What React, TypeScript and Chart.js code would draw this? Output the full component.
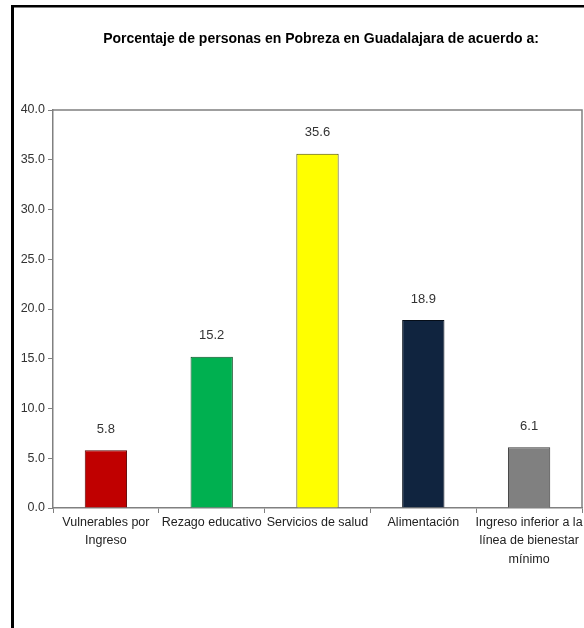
import React, { useEffect, useRef } from "react";
import { Chart, registerables } from "chart.js";

Chart.register(...registerables);

const titleText = "Porcentaje de personas en Pobreza en Guadalajara de acuerdo a:";
const categories: string[][] = [
  ["Vulnerables por", "Ingreso"],
  ["Rezago educativo"],
  ["Servicios de salud"],
  ["Alimentación"],
  ["Ingreso inferior a la", "línea de bienestar", "mínimo"],
];
const values = [5.8, 15.2, 35.6, 18.9, 6.1];
const barColors = ["#C00000", "#00B050", "#FFFF00", "#10243F", "#808080"];
const barBorders = ["#5a0000", "#0b4d24", "#4d4d00", "#050d18", "#3a3a3a"];
const yMin = 0;
const yMax = 40;
const yStep = 5;

const FONT = "'Liberation Sans Narrow', 'Liberation Sans', Arial, sans-serif";

const framePlugin = {
  id: "framePlugin",
  afterDraw(chart: any) {
    const { ctx, chartArea } = chart;
    ctx.save();
    // plot area top and right border
    ctx.strokeStyle = "#808080";
    ctx.lineWidth = 1.5;
    ctx.beginPath();
    ctx.moveTo(chartArea.left, chartArea.top);
    ctx.lineTo(chartArea.right, chartArea.top);
    ctx.lineTo(chartArea.right, chartArea.bottom);
    ctx.stroke();
    // outer black frame (left and top)
    ctx.fillStyle = "#000";
    ctx.fillRect(11, 5, 3, chart.height - 5);
    ctx.fillRect(11, 5, chart.width - 11, 2.5);
    // title
    ctx.fillStyle = "#000";
    ctx.font = `bold 14px ${FONT}`;
    ctx.textAlign = "center";
    ctx.textBaseline = "middle";
    ctx.fillText(titleText, 321, 39);
    // value labels
    const meta = chart.getDatasetMeta(0);
    ctx.font = `13px ${FONT}`;
    ctx.fillStyle = "#333";
    meta.data.forEach((bar: any, i: number) => {
      ctx.fillText(values[i].toFixed(1), bar.x, bar.y - 21);
    });
    ctx.restore();
  },
};

export default function App() {
  const ref = useRef<HTMLCanvasElement>(null);
  useEffect(() => {
    if (!ref.current) return;
    const chart = new Chart(ref.current, {
      type: "bar",
      data: {
        labels: categories,
        datasets: [
          {
            data: values,
            backgroundColor: barColors,
            borderColor: barBorders,
            borderWidth: 1,
            barPercentage: 0.4,
            categoryPercentage: 1,
          },
        ],
      },
      options: {
        animation: false,
        responsive: false,
        devicePixelRatio: 1,
        layout: { padding: { top: 110, right: 2, left: 0, bottom: 0 } },
        plugins: {
          legend: { display: false },
          title: { display: false },
          tooltip: { enabled: false },
        },
        scales: {
          x: {
            grid: {
              display: true,
              drawOnChartArea: false,
              drawTicks: true,
              tickLength: 5,
              color: "#808080",
              offset: true,
            },
            border: { display: true, color: "#808080", width: 1.5 },
            ticks: {
              color: "#222",
              font: { family: FONT, size: 12.5, lineHeight: 1.48 },
              padding: 0,
              maxRotation: 0,
              autoSkip: false,
            },
            afterFit(scale: any) {
              scale.height = 120;
            },
          },
          y: {
            min: yMin,
            max: yMax,
            grid: {
              display: true,
              drawOnChartArea: false,
              drawTicks: true,
              tickLength: 5,
              color: "#808080",
            },
            border: { display: true, color: "#808080", width: 1.5 },
            ticks: {
              stepSize: yStep,
              color: "#333",
              padding: 3,
              font: { family: FONT, size: 12.5 },
              callback: (v: any) => Number(v).toFixed(1),
            },
            afterFit(scale: any) {
              scale.width = 53;
            },
          },
        },
      },
      plugins: [framePlugin],
    });
    return () => chart.destroy();
  }, []);
  return (
    <div style={{ position: "absolute", left: 0, top: 0, width: 584, height: 628, background: "#fff" }}>
      <canvas ref={ref} width={584} height={628} style={{ width: 584, height: 628, display: "block" }} />
    </div>
  );
}
